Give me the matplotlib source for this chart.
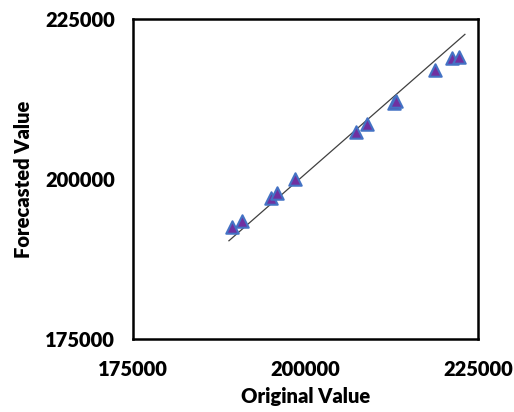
import matplotlib
matplotlib.use("Agg")
import matplotlib.pyplot as plt

# data
original = [189400, 190750, 194950, 195800, 198500, 207250, 208850,
            212800, 213100, 218750, 221300, 222250]
forecast = [192450, 193500, 197000, 197750, 200000, 207400, 208550,
            211900, 212250, 217000, 218850, 219100]
line_x = [188900, 223100]
line_y = [190350, 222600]
ticks = [175000, 200000, 225000]

plt.rcParams['font.family'] = ['Lato', 'DejaVu Sans']

fig = plt.figure(figsize=(5.14, 4.12), dpi=100)
ax = fig.add_axes([0.2588, 0.1772, 0.6712, 0.7767])

ax.plot(line_x, line_y, color='#404040', linewidth=0.9, zorder=2)
ax.scatter(original, forecast, marker='^', s=80, c='#7030A0',
           edgecolors='#4472C4', linewidths=1.5, zorder=3)

ax.set_xlim(175000, 225000)
ax.set_ylim(175000, 225000)
ax.set_xticks(ticks)
ax.set_yticks(ticks)
ax.set_xticklabels([str(t) for t in ticks], fontsize=14.5, fontweight='heavy')
ax.set_yticklabels([str(t) for t in ticks], fontsize=14.5, fontweight='heavy')
ax.tick_params(axis='x', length=0, pad=15)
ax.tick_params(axis='y', length=0, pad=13)

for s in ax.spines.values():
    s.set_linewidth(1.8)
    s.set_color('black')

ax.set_xlabel('Original Value', fontsize=14.5, fontweight='heavy', labelpad=6)
ax.set_ylabel('Forecasted Value', fontsize=14.5, fontweight='heavy', labelpad=9)

fig.savefig('out.png', dpi=100)
